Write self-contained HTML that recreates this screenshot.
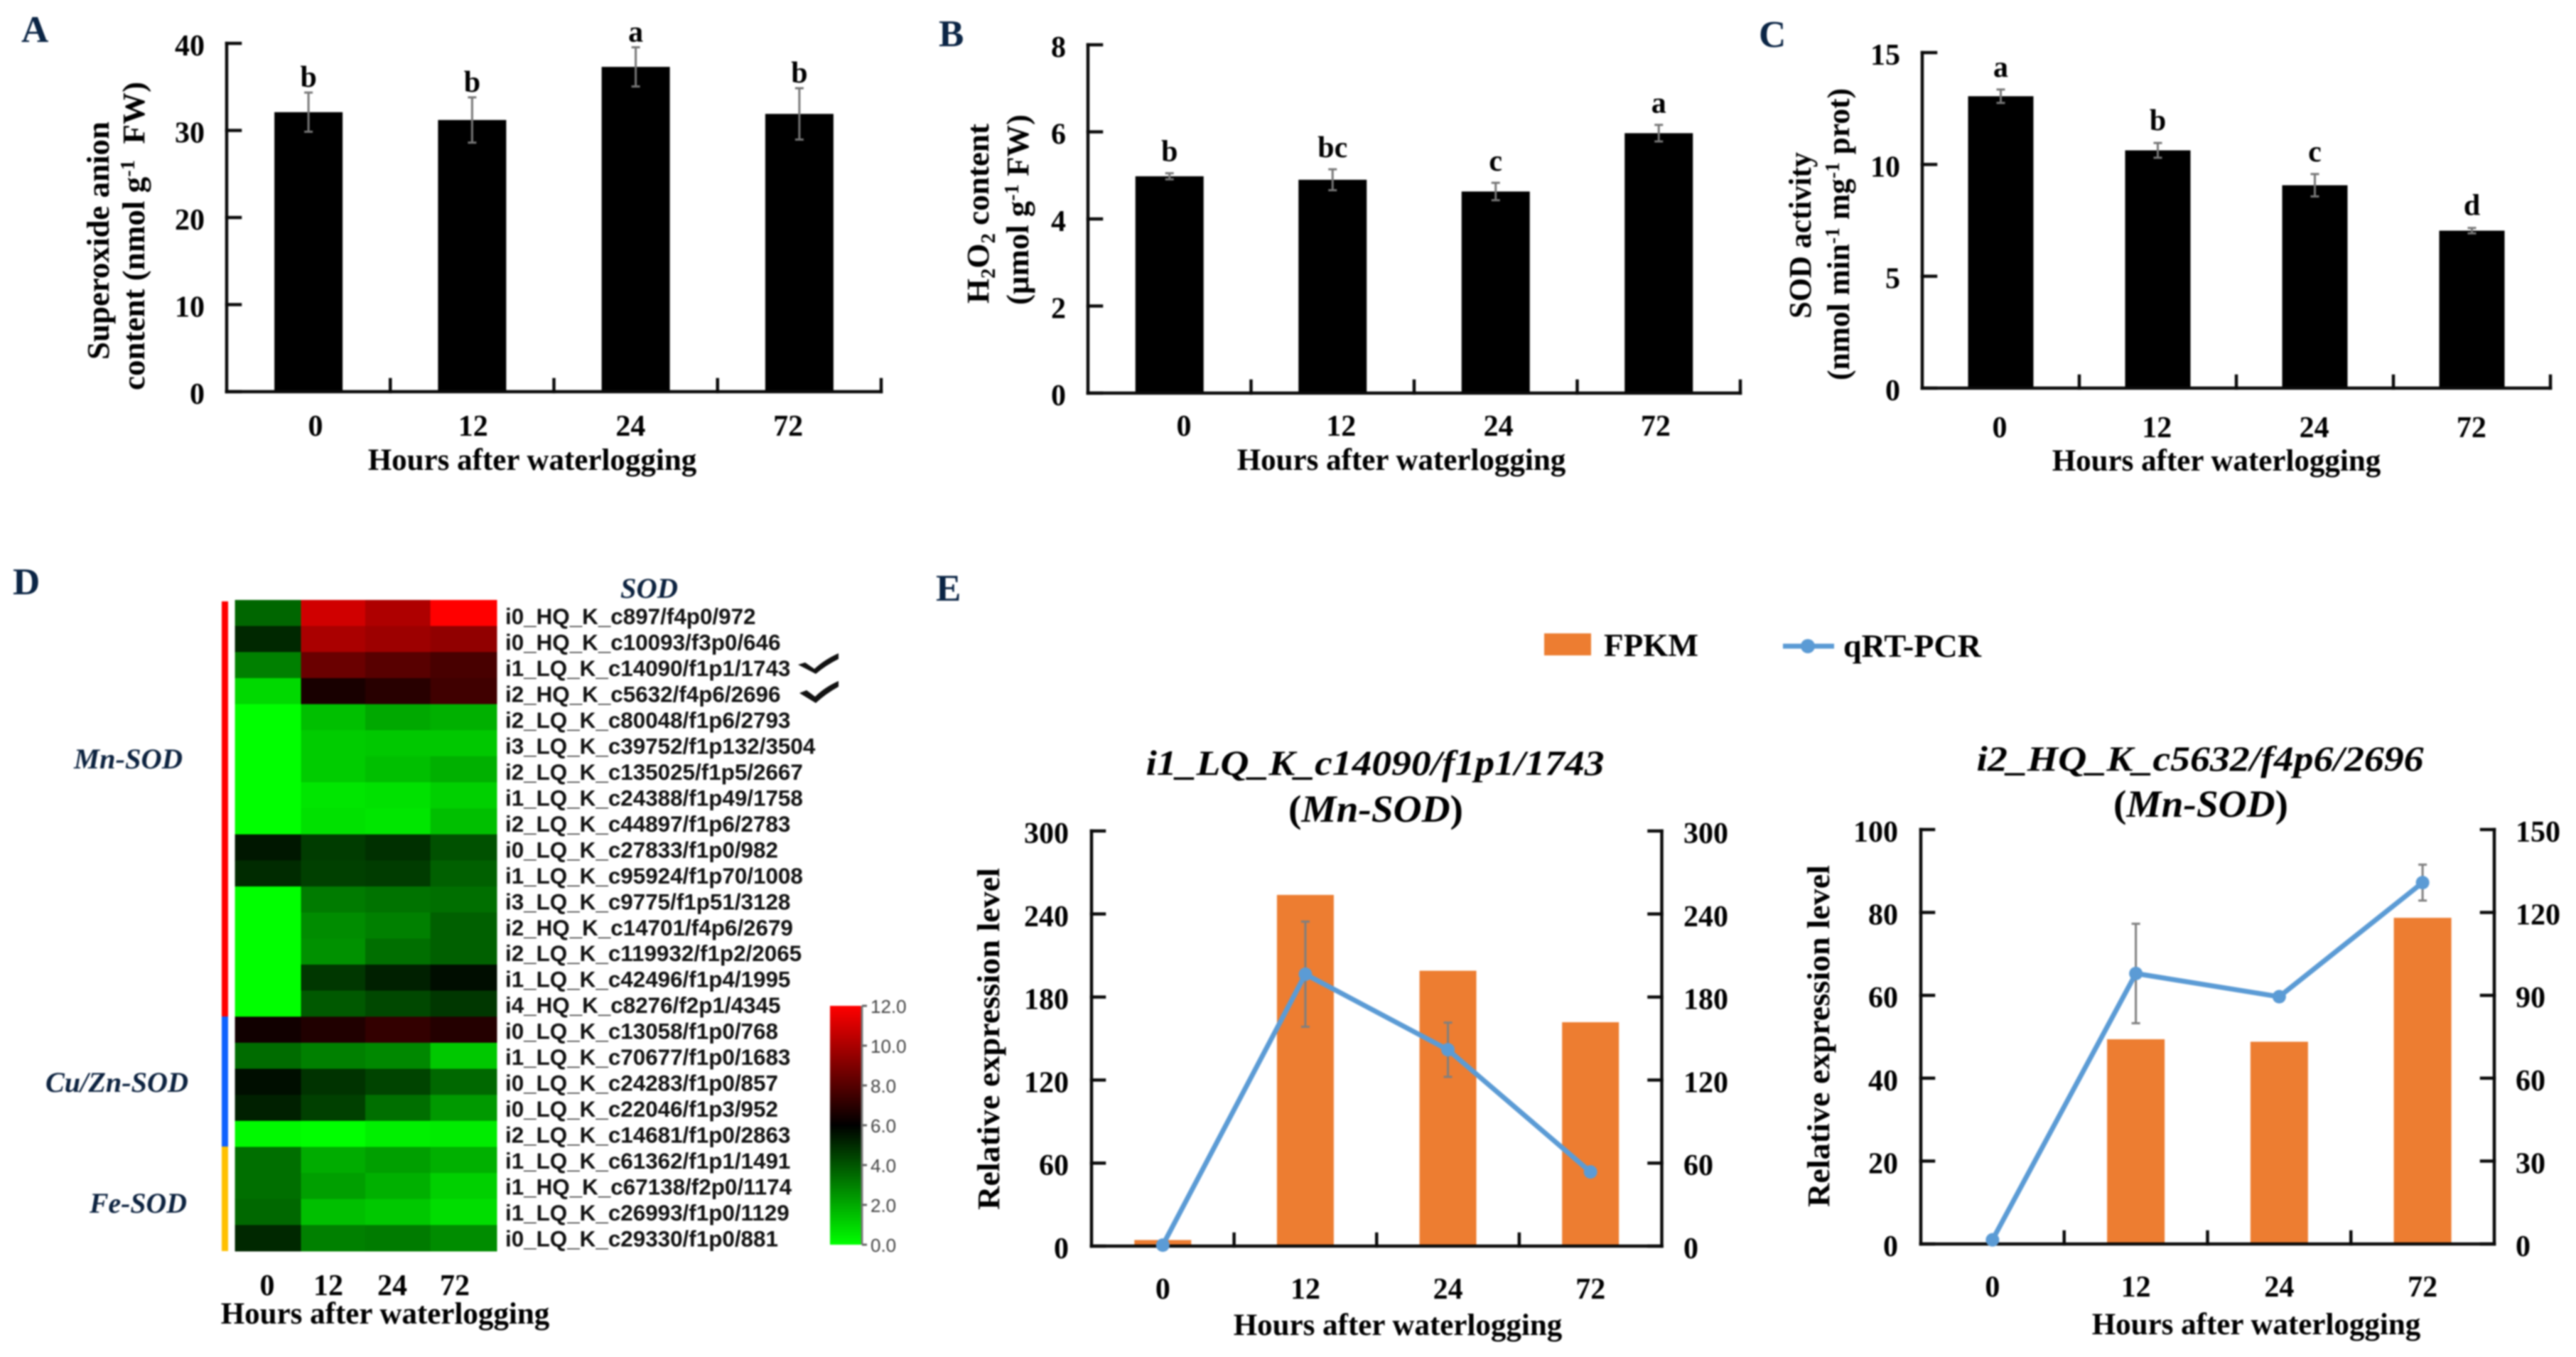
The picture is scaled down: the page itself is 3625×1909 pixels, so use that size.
<!DOCTYPE html>
<html lang="en">
<head>
<meta charset="utf-8">
<title>SOD response to waterlogging</title>
<style>
html,body{margin:0;padding:0;background:#fff;width:3625px;height:1909px;overflow:hidden}
svg{display:block;filter:blur(1.1px)}
text{font-family:"Liberation Serif",serif;font-weight:bold;fill:#000}
.t{font-size:42px}
.hrs{font-size:43px}
.ttl{font-size:44px}
.pl{font-size:53px;fill:#0b2545}
.grp{font-size:40px;font-style:italic;fill:#0d2340}
.gt{font-size:50px}
.gt2{font-size:54px}
.row{font-family:"Liberation Sans",sans-serif;font-size:31.4px;fill:#111}
.leg{font-family:"Liberation Sans",sans-serif;font-size:26px;font-weight:normal;fill:#444}
.sub{font-size:28px}
</style>
</head>
<body>
<svg id="figure" xmlns="http://www.w3.org/2000/svg" width="3625" height="1909" viewBox="0 0 3625 1909">
  <rect width="3625" height="1909" fill="#fff"/>

  <text class="pl" x="30" y="59">A</text>
  <text class="pl" x="1321" y="65">B</text>
  <text class="pl" x="2475" y="66">C</text>
  <text class="pl" x="18" y="836">D</text>
  <text class="pl" x="1317" y="845">E</text>

  <g id="panelA"></g>
  <g id="panelB"></g>
  <g id="panelC"></g>

  <text class="ttl" transform="translate(153,506) rotate(-90)" textLength="335" lengthAdjust="spacingAndGlyphs">Superoxide anion</text>
  <text class="ttl" transform="translate(203,549) rotate(-90)" textLength="434" lengthAdjust="spacingAndGlyphs">content (nmol g<tspan class="sub" dy="-14">-1</tspan><tspan dy="14" xml:space="preserve">  FW)</tspan></text>
  <text class="hrs" x="749" y="661" text-anchor="middle">Hours after waterlogging</text>

  <text class="ttl" transform="translate(1391,427) rotate(-90)" textLength="253" lengthAdjust="spacingAndGlyphs">H<tspan class="sub" dy="9">2</tspan><tspan dy="-9">O</tspan><tspan class="sub" dy="9">2</tspan><tspan dy="-9"> content</tspan></text>
  <text class="ttl" transform="translate(1447,429) rotate(-90)" textLength="268" lengthAdjust="spacingAndGlyphs">(µmol g<tspan class="sub" dy="-14">-1</tspan><tspan dy="14"> FW)</tspan></text>
  <text class="hrs" x="1972" y="661" text-anchor="middle">Hours after waterlogging</text>

  <text class="ttl" transform="translate(2548,448) rotate(-90)" textLength="234" lengthAdjust="spacingAndGlyphs">SOD activity</text>
  <text class="ttl" transform="translate(2602,535) rotate(-90)" textLength="411" lengthAdjust="spacingAndGlyphs">(nmol min<tspan class="sub" dy="-14">-1</tspan><tspan dy="14"> mg</tspan><tspan class="sub" dy="-14">-1</tspan><tspan dy="14"> prot)</tspan></text>
  <text class="hrs" x="3119" y="662" text-anchor="middle">Hours after waterlogging</text>

  <g id="panelD"></g>
  <rect x="312" y="846" width="9" height="584" fill="#ff0000"/>
  <rect x="312" y="1430" width="9" height="183" fill="#0f62fe"/>
  <rect x="312" y="1613" width="9" height="147" fill="#ffc000"/>
  <text class="grp" x="104" y="1081" textLength="153" lengthAdjust="spacingAndGlyphs">Mn-SOD</text>
  <text class="grp" x="64" y="1536" textLength="201" lengthAdjust="spacingAndGlyphs">Cu/Zn-SOD</text>
  <text class="grp" x="126" y="1706" textLength="137" lengthAdjust="spacingAndGlyphs">Fe-SOD</text>
  <text class="grp" x="873" y="841" textLength="81" lengthAdjust="spacingAndGlyphs">SOD</text>
  <text class="hrs" x="542" y="1862" text-anchor="middle">Hours after waterlogging</text>
  <path d="M1123 935 L1133 932 L1146 941 Q1160 928 1180 919 L1180 927 Q1162 936 1148 948 Z" fill="#111"/>
  <path d="M1125 975 L1135 971 L1147 980 Q1160 967 1180 958 L1180 966 Q1162 976 1148 989 Z" fill="#111"/>

  <rect x="2173" y="891" width="66" height="31" fill="#ed7d31"/>
  <text x="2257" y="923" font-size="45" textLength="133" lengthAdjust="spacingAndGlyphs">FPKM</text>
  <line x1="2509" y1="909" x2="2581" y2="909" stroke="#5b9bd5" stroke-width="7"/>
  <circle cx="2544" cy="909" r="10" fill="#5b9bd5"/>
  <text x="2594" y="924" font-size="45" textLength="194" lengthAdjust="spacingAndGlyphs">qRT-PCR</text>

  <text class="gt" x="1935" y="1090" text-anchor="middle" font-style="italic" textLength="645" lengthAdjust="spacingAndGlyphs">i1_LQ_K_c14090/f1p1/1743</text>
  <text class="gt2" x="1936" y="1156" text-anchor="middle" textLength="246" lengthAdjust="spacingAndGlyphs">(<tspan font-style="italic">Mn-SOD</tspan>)</text>
  <text class="ttl" transform="translate(1406,1702) rotate(-90)" textLength="481" lengthAdjust="spacingAndGlyphs">Relative expression level</text>
  <text class="hrs" x="1967" y="1878" text-anchor="middle">Hours after waterlogging</text>
  <g id="panelE1"></g>

  <text class="gt" x="3096" y="1084" text-anchor="middle" font-style="italic" textLength="629" lengthAdjust="spacingAndGlyphs">i2_HQ_K_c5632/f4p6/2696</text>
  <text class="gt2" x="3097" y="1149" text-anchor="middle" textLength="246" lengthAdjust="spacingAndGlyphs">(<tspan font-style="italic">Mn-SOD</tspan>)</text>
  <text class="ttl" transform="translate(2574,1698) rotate(-90)" textLength="481" lengthAdjust="spacingAndGlyphs">Relative expression level</text>
  <text class="hrs" x="3175" y="1877" text-anchor="middle">Hours after waterlogging</text>
  <g id="panelE2"></g>
</svg>

<script>
// ---------- data ----------
const categories = ['0', '12', '24', '72'];

const superoxideValues = [32.1, 31.2, 37.3, 31.9];
const superoxideErrors = [2.25, 2.6, 2.25, 2.95];
const superoxideLetters = ['b', 'b', 'a', 'b'];
const superoxideTicks = [0, 10, 20, 30, 40];

const h2o2Values = [4.98, 4.9, 4.63, 5.97];
const h2o2Errors = [0.07, 0.24, 0.2, 0.19];
const h2o2Letters = ['b', 'bc', 'c', 'a'];
const h2o2Ticks = [0, 2, 4, 6, 8];

const sodActivityValues = [13.05, 10.63, 9.07, 7.04];
const sodActivityErrors = [0.3, 0.33, 0.5, 0.12];
const sodActivityLetters = ['a', 'b', 'c', 'd'];
const sodActivityTicks = [0, 5, 10, 15];

const geneLabels = [
  'i0_HQ_K_c897/f4p0/972', 'i0_HQ_K_c10093/f3p0/646', 'i1_LQ_K_c14090/f1p1/1743', 'i2_HQ_K_c5632/f4p6/2696',
  'i2_LQ_K_c80048/f1p6/2793', 'i3_LQ_K_c39752/f1p132/3504', 'i2_LQ_K_c135025/f1p5/2667', 'i1_LQ_K_c24388/f1p49/1758',
  'i2_LQ_K_c44897/f1p6/2783', 'i0_LQ_K_c27833/f1p0/982', 'i1_LQ_K_c95924/f1p70/1008', 'i3_LQ_K_c9775/f1p51/3128',
  'i2_HQ_K_c14701/f4p6/2679', 'i2_LQ_K_c119932/f1p2/2065', 'i1_LQ_K_c42496/f1p4/1995', 'i4_HQ_K_c8276/f2p1/4345',
  'i0_LQ_K_c13058/f1p0/768', 'i1_LQ_K_c70677/f1p0/1683', 'i0_LQ_K_c24283/f1p0/857', 'i0_LQ_K_c22046/f1p3/952',
  'i2_LQ_K_c14681/f1p0/2863', 'i1_LQ_K_c61362/f1p1/1491', 'i1_HQ_K_c67138/f2p0/1174', 'i1_LQ_K_c26993/f1p0/1129',
  'i0_LQ_K_c29330/f1p0/881'
];
const heatValues = [
  [3.6, 10.9, 10.1, 12],
  [5.06, 10, 9.7, 9.4],
  [3, 8.5, 8.07, 7.7],
  [0.9, 6.56, 6.94, 7.5],
  [0, 1.5, 2.05, 1.85],
  [0, 1.2, 1.3, 1.3],
  [0, 1.2, 1.5, 1.85],
  [0, 0.6, 0.7, 1.1],
  [0, 0.7, 0.6, 1.5],
  [5.45, 4.6, 4.87, 4.1],
  [5, 4.5, 4.6, 3.75],
  [0, 3.1, 3.3, 3.4],
  [0, 2.7, 3, 3.75],
  [0, 2.6, 3.4, 3.75],
  [0, 4.7, 5.25, 5.7],
  [0, 3.9, 4.3, 4.7],
  [6.4, 6.75, 7.2, 6.85],
  [3.45, 3, 2.8, 1.3],
  [5.67, 4.8, 4.4, 3.55],
  [5.25, 4.5, 3.4, 2.4],
  [0.15, 0, 0.35, 0.45],
  [3.4, 1.95, 2.25, 1.85],
  [3.4, 2.25, 1.85, 1.1],
  [3.55, 1.5, 1.3, 0.8],
  [5.05, 3, 3.1, 2.7]
];
const heatScaleTicks = [0, 2, 4, 6, 8, 10, 12];
const heatScaleTickLabels = ['0.0', '2.0', '4.0', '6.0', '8.0', '10.0', '12.0'];

const c14090Fpkm = [4.4, 253.8, 199, 161.8];
const c14090Qpcr = [0.7, 196.5, 141.9, 53.6];
const c14090QpcrErrors = [0, 38, 19.6, 0];
const c14090LeftTicks = [0, 60, 120, 180, 240, 300];
const c14090RightTicks = [0, 60, 120, 180, 240, 300];

const c5632Fpkm = [0, 49.4, 48.8, 78.7];
const c5632Qpcr = [1.5, 97.9, 89.5, 130.8];
const c5632QpcrErrors = [0, 18, 0, 6.5];
const c5632LeftTicks = [0, 20, 40, 60, 80, 100];
const c5632RightTicks = [0, 30, 60, 90, 120, 150];

// ---------- helpers ----------
const NS = 'http://www.w3.org/2000/svg';
function mk(tag, attrs, parent, txt) {
  const el = document.createElementNS(NS, tag);
  for (const k in attrs) el.setAttribute(k, attrs[k]);
  if (txt !== undefined) el.textContent = txt;
  parent.appendChild(el);
  return el;
}
function linearY(max, yZero, yTop) {
  return v => yZero - (v / max) * (yZero - yTop);
}
function axisLine(parent, x1, y1, x2, y2, name) {
  const el = mk('line', {x1, y1, x2, y2, stroke: '#0a0a0a', 'stroke-width': 4.5, 'stroke-linecap': 'square'}, parent);
  
  
  return el;
}
function errorBar(parent, x, yHi, yLo, color, name) {
  const g = mk('g', {stroke: color, 'stroke-width': 3, fill: 'none'}, parent);
  
  
  mk('line', {x1: x, x2: x, y1: yHi, y2: yLo}, g);
  mk('line', {x1: x - 6, x2: x + 6, y1: yHi, y2: yHi}, g);
  mk('line', {x1: x - 6, x2: x + 6, y1: yLo, y2: yLo}, g);
}
function xAxisTicks(parent, xLeft, step, yZero, n) {
  for (let i = 1; i <= n; i++) {
    const x = xLeft + step * i;
    axisLine(parent, x, yZero, x, yZero - 17, 'x-axis-tick');
  }
}
function yTickLabel(parent, x, y, anchor, label) {
  const el = mk('text', {class: 't', x, y: y + 17, 'text-anchor': anchor}, parent, label);
  
  
}
function xTickLabel(parent, x, y, label) {
  const el = mk('text', {class: 't', x, y, 'text-anchor': 'middle'}, parent, label);
  
  
}

// ---------- panels A-C ----------
function drawBarPanel(parent, L, values, errors, letters, ticks) {
  const max = ticks[ticks.length - 1];
  const y = linearY(max, L.yZero, L.yTop);
  const step = (L.xRight - L.xLeft) / categories.length;
  const x = i => L.xLeft + step * (i + 0.5);
  values.forEach((v, i) => {
    const bar = mk('rect', {x: x(i) - L.barW / 2, y: y(v), width: L.barW, height: L.yZero - y(v), fill: '#000'}, parent);
    
    
    errorBar(parent, x(i), y(v + errors[i]), y(v - errors[i]), '#777', 'error-bar-' + categories[i] + 'h');
    const lt = mk('text', {class: 't', x: x(i), y: y(v + errors[i]) - L.letterGap, 'text-anchor': 'middle'}, parent, letters[i]);
    
    
    xTickLabel(parent, L.labelStart + L.labelStep * i, L.labelY, categories[i]);
  });
  axisLine(parent, L.xLeft, L.yTop, L.xLeft, L.yZero, 'y-axis');
  axisLine(parent, L.xLeft, L.yZero, L.xRight, L.yZero, 'x-axis');
  xAxisTicks(parent, L.xLeft, step, L.yZero, categories.length);
  ticks.forEach(t => {
    axisLine(parent, L.xLeft, y(t), L.xLeft + 19, y(t), 'y-axis-tick');
    yTickLabel(parent, L.tickRight, y(t), 'end', String(t));
  });
}
drawBarPanel(document.getElementById('panelA'),
  {xLeft: 319, xRight: 1240, yTop: 61, yZero: 551, barW: 96, letterGap: 8, labelStart: 444, labelStep: 221.7, labelY: 613, tickRight: 288},
  superoxideValues, superoxideErrors, superoxideLetters, superoxideTicks);
drawBarPanel(document.getElementById('panelB'),
  {xLeft: 1531, xRight: 2449, yTop: 63, yZero: 553, barW: 96, letterGap: 17, labelStart: 1666, labelStep: 221.3, labelY: 613, tickRight: 1500},
  h2o2Values, h2o2Errors, h2o2Letters, h2o2Ticks);
drawBarPanel(document.getElementById('panelC'),
  {xLeft: 2705, xRight: 3589, yTop: 74, yZero: 546, barW: 92, letterGap: 18, labelStart: 2814, labelStep: 221.3, labelY: 615, tickRight: 2674},
  sodActivityValues, sodActivityErrors, sodActivityLetters, sodActivityTicks);

// ---------- panel D ----------
function heatColor(v) {
  const t = Math.max(0, Math.min(12, v));
  if (t <= 6) return 'rgb(0,' + Math.round(255 * (6 - t) / 6) + ',0)';
  return 'rgb(' + Math.round(255 * (t - 6) / 6) + ',0,0)';
}
(function drawHeatmap() {
  const parent = document.getElementById('panelD');
  const colEdges = [330.6, 423.5, 514, 605.6, 699];
  const yTop = 844, yBottom = 1760;
  const rowH = (yBottom - yTop) / heatValues.length;
  heatValues.forEach((row, r) => {
    row.forEach((v, c) => {
      const cell = mk('rect', {x: colEdges[c], y: yTop + r * rowH, width: colEdges[c + 1] - colEdges[c] + 0.5, height: rowH + 0.5, fill: heatColor(v)}, parent);
      
      
    });
    const lb = mk('text', {class: 'row', x: 711, y: 878 + r * 36.48}, parent, geneLabels[r]);
    
    
  });
  const tickX = [376, 462, 552, 640];
  categories.forEach((c, i) => xTickLabel(parent, tickX[i], 1822, c));

  const defs = mk('defs', {}, parent);
  const grad = mk('linearGradient', {id: 'heatGrad', x1: 0, y1: 1, x2: 0, y2: 0}, defs);
  heatScaleTicks.forEach(t => {
    mk('stop', {offset: t / 12, 'stop-color': heatColor(t)}, grad);
  });
  const sy = linearY(12, 1751, 1415);
  const scaleBar = mk('rect', {x: 1168, y: sy(12), width: 44, height: sy(0) - sy(12), fill: 'url(#heatGrad)'}, parent);
  
  
  const scaleAxis = mk('line', {x1: 1213, x2: 1213, y1: sy(12), y2: sy(0), stroke: '#777', 'stroke-width': 3}, parent);
  
  
  heatScaleTicks.forEach((t, i) => {
    const tick = mk('line', {x1: 1213, x2: 1220, y1: sy(t), y2: sy(t), stroke: '#666', 'stroke-width': 3}, parent);
    
    
    const lab = mk('text', {class: 'leg', x: 1225, y: sy(t) + 10}, parent, heatScaleTickLabels[i]);
    
    
  });
})();

// ---------- panel E ----------
function drawComboPanel(parent, L, fpkm, qpcr, errors, leftTicks, rightTicks) {
  const yL = linearY(leftTicks[leftTicks.length - 1], L.yZero, L.yTop);
  const yR = linearY(rightTicks[rightTicks.length - 1], L.yZero, L.yTop);
  const step = (L.xRight - L.xLeft) / categories.length;
  const x = i => L.xLeft + step * (i + 0.5);
  fpkm.forEach((v, i) => {
    if (v <= 0) return;
    const bar = mk('rect', {x: x(i) - L.barW / 2, y: yL(v), width: L.barW, height: L.yZero - yL(v), fill: '#ed7d31'}, parent);
    
    
  });
  axisLine(parent, L.xLeft, L.yTop, L.xLeft, L.yZero, 'left-y-axis');
  axisLine(parent, L.xRight, L.yTop, L.xRight, L.yZero, 'right-y-axis');
  axisLine(parent, L.xLeft, L.yZero, L.xRight, L.yZero, 'x-axis');
  xAxisTicks(parent, L.xLeft, step, L.yZero, categories.length - 1);
  leftTicks.forEach(t => {
    axisLine(parent, L.xLeft, yL(t), L.xLeft + 18, yL(t), 'left-y-axis-tick');
    yTickLabel(parent, L.leftLabelX, yL(t), 'end', String(t));
  });
  rightTicks.forEach(t => {
    axisLine(parent, L.xRight, yR(t), L.xRight - 18, yR(t), 'right-y-axis-tick');
    yTickLabel(parent, L.rightLabelX, yR(t), 'start', String(t));
  });
  errors.forEach((e, i) => {
    if (e > 0) errorBar(parent, x(i), yR(qpcr[i] + e), yR(qpcr[i] - e), '#7f7f7f', 'qpcr-error-bar-' + categories[i] + 'h');
  });
  const pts = qpcr.map((v, i) => x(i) + ',' + yR(v)).join(' ');
  const line = mk('polyline', {points: pts, fill: 'none', stroke: '#5b9bd5', 'stroke-width': 7, 'stroke-linejoin': 'round'}, parent);
  
  
  qpcr.forEach((v, i) => {
    const pt = mk('circle', {cx: x(i), cy: yR(v), r: 9.5, fill: '#5b9bd5'}, parent);
    
    
    xTickLabel(parent, x(i), L.labelY, categories[i]);
  });
}
drawComboPanel(document.getElementById('panelE1'),
  {xLeft: 1536, xRight: 2338.5, yTop: 1169, yZero: 1753, barW: 80, leftLabelX: 1504, rightLabelX: 2369, labelY: 1827},
  c14090Fpkm, c14090Qpcr, c14090QpcrErrors, c14090LeftTicks, c14090RightTicks);
drawComboPanel(document.getElementById('panelE2'),
  {xLeft: 2703, xRight: 3510, yTop: 1167, yZero: 1750, barW: 81, leftLabelX: 2671, rightLabelX: 3540, labelY: 1824},
  c5632Fpkm, c5632Qpcr, c5632QpcrErrors, c5632LeftTicks, c5632RightTicks);
</script>
</body>
</html>
